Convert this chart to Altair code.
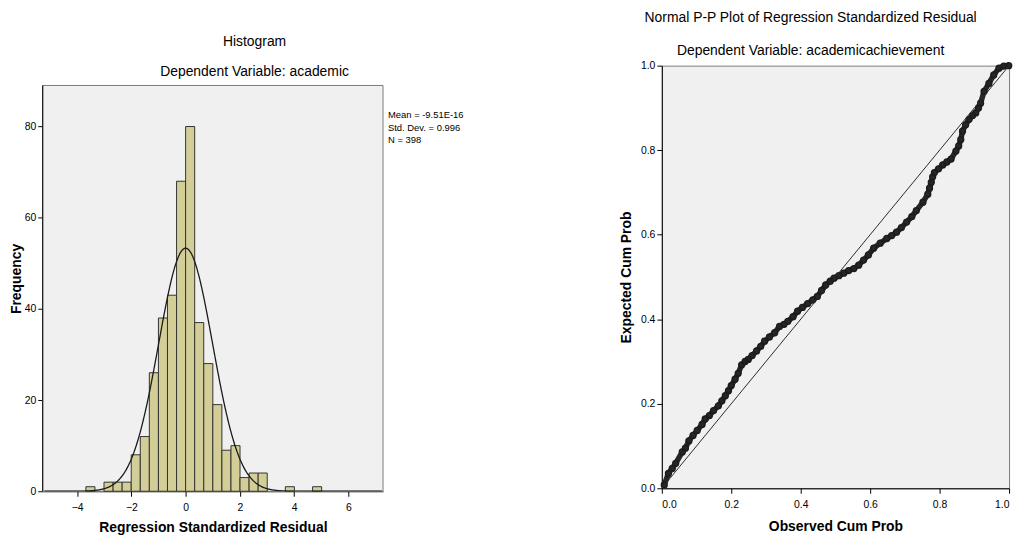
import altair as alt
import pandas as pd

# ---------------- data ----------------
bin_start = [-3.678, -3.010, -2.675, -2.341, -2.006, -1.672, -1.338, -1.003, -0.669, -0.334,
             0.0, 0.334, 0.669, 1.003, 1.338, 1.672, 2.006, 2.341, 2.675, 3.678, 4.682]
counts = [1, 2, 2, 2, 8, 12, 26, 38, 43, 68, 80, 37, 28, 19, 9, 10, 3, 4, 4, 1, 1]
bin_width = 0.3344
mean_val = -9.51e-16
sd_val = 0.996
n_val = 398
stats_lines = ["Mean = -9.51E-16", "Std. Dev. = 0.996", "N = 398"]
hist_x_ticks = [-4, -2, 0, 2, 4, 6]
hist_y_ticks = [0, 20, 40, 60, 80]
hist_x_domain = [-5.27, 7.28]
hist_y_max = 89

pp_observed = [0.007, 0.019, 0.03, 0.04, 0.059, 0.068, 0.078, 0.09, 0.102, 0.116, 0.125, 0.137,
               0.149, 0.163, 0.173, 0.183, 0.192, 0.2, 0.211, 0.22, 0.23, 0.24, 0.249, 0.26,
               0.273, 0.285, 0.296, 0.31, 0.325, 0.339, 0.352, 0.363, 0.378, 0.391, 0.405, 0.42,
               0.435, 0.448, 0.46, 0.472, 0.485, 0.496, 0.51, 0.524, 0.538, 0.553, 0.567, 0.581,
               0.595, 0.61, 0.629, 0.648, 0.662, 0.676, 0.69, 0.705, 0.72, 0.733, 0.752, 0.766,
               0.771, 0.776, 0.78, 0.785, 0.797, 0.809, 0.821, 0.833, 0.847, 0.855, 0.861, 0.866,
               0.875, 0.885, 0.895, 0.904, 0.912, 0.918, 0.928, 0.942, 0.956, 0.971, 0.985, 0.999]
pp_expected = [0.008, 0.035, 0.047, 0.059, 0.086, 0.095, 0.112, 0.125, 0.137, 0.151, 0.164, 0.172,
               0.184, 0.195, 0.207, 0.219, 0.231, 0.243, 0.258, 0.272, 0.292, 0.3, 0.305, 0.314,
               0.325, 0.336, 0.348, 0.358, 0.368, 0.383, 0.388, 0.395, 0.406, 0.419, 0.428, 0.437,
               0.446, 0.454, 0.468, 0.481, 0.49, 0.497, 0.503, 0.509, 0.515, 0.52, 0.528, 0.54,
               0.552, 0.568, 0.58, 0.591, 0.598, 0.606, 0.617, 0.63, 0.643, 0.657, 0.677, 0.696,
               0.71, 0.724, 0.737, 0.747, 0.756, 0.765, 0.772, 0.779, 0.798, 0.81, 0.825, 0.845,
               0.86, 0.873, 0.882, 0.888, 0.9, 0.911, 0.939, 0.958, 0.978, 0.994, 0.999, 1.0]
pp_ticks = [0.0, 0.2, 0.4, 0.6, 0.8, 1.0]

# ---------------- styling ----------------
NARROW = "Liberation Sans Narrow, Arial Narrow, Liberation Sans, Arial, sans-serif"
REG = "Liberation Sans, Arial, sans-serif"
PANEL = "#F0F0F0"
FRAME = "#7a7a7a"

HW, HFRAME = 343, 409          # histogram frame size
HH = 429                        # histogram view height (frame sits at its bottom)
PW, PH = 350, 426

hist_df = pd.DataFrame({"start": bin_start, "count": counts})
hist_df["end"] = hist_df["start"] + bin_width

xs = alt.Scale(domain=hist_x_domain, nice=False, zero=False)
ys = alt.Scale(domain=[0, hist_y_max * HH / HFRAME], nice=False)

frame = alt.Chart(pd.DataFrame({"a": [0]})).mark_rect(
    fill=PANEL, stroke=FRAME, strokeWidth=1
).encode(
    x=alt.X(datum=hist_x_domain[0], scale=xs,
            axis=alt.Axis(values=hist_x_ticks, title="Regression Standardized Residual",
                          labelPadding=6, titlePadding=8)),
    x2=alt.datum(hist_x_domain[1]),
    y=alt.Y(datum=0, scale=ys,
            axis=alt.Axis(values=hist_y_ticks, title="Frequency", titlePadding=1, domain=False)),
    y2=alt.datum(hist_y_max),
)

yline = alt.Chart(pd.DataFrame({"a": [0]})).mark_rule(color="#000000", strokeWidth=1).encode(
    x=alt.X(datum=hist_x_domain[0], scale=xs),
    y=alt.Y(datum=0, scale=ys),
    y2=alt.datum(hist_y_max),
)

bars = alt.Chart(hist_df).mark_rect(fill="#D3CE97", stroke="#333333", strokeWidth=1).encode(
    x=alt.X("start:Q", scale=xs),
    x2="end:Q",
    y=alt.Y("count:Q", scale=ys),
    y2=alt.datum(0),
)

curve = alt.Chart(alt.sequence(-5.2, 7.25, 0.02, as_="x")).transform_calculate(
    y=f"{n_val * bin_width}*densityNormal(datum.x, {mean_val}, {sd_val})"
).mark_line(color="#1a1a1a", strokeWidth=1.3, clip=True).encode(
    x=alt.X("x:Q", scale=xs), y=alt.Y("y:Q", scale=ys)
)

stats = alt.Chart(pd.DataFrame({"t": ["\n".join(stats_lines)]})).mark_text(
    align="left", baseline="top", lineBreak="\n", lineHeight=12.5, fontSize=9.5,
    font=NARROW, color="#000000"
).encode(text="t:N", x=alt.value(HW + 5), y=alt.value(45))

left = alt.layer(frame, bars, curve, yline, stats).properties(
    width=HW, height=HH,
    view=alt.ViewBackground(fill="transparent", stroke="transparent"),
    title=alt.TitleParams("Histogram", subtitle="Dependent Variable: academic",
                          font=REG, subtitleFont=REG, fontSize=14, subtitleFontSize=14,
                          fontWeight="normal", color="#000000", subtitleColor="#000000",
                          anchor="middle", dx=42, dy=21, offset=8, subtitlePadding=16),
)

pp_df = pd.DataFrame({"obs": pp_observed, "exp": pp_expected})
diag_df = pd.DataFrame({"obs": [0.0, 1.0], "exp": [0.0, 1.0]})
pxs = alt.Scale(domain=[0, 1], nice=False)
pys = alt.Scale(domain=[0, 1], nice=False)

diag = alt.Chart(diag_df).mark_line(color="#2a2a2a", strokeWidth=1).encode(
    x=alt.X("obs:Q", scale=pxs,
            axis=alt.Axis(values=pp_ticks, format=".1f", title="Observed Cum Prob",
                          labelPadding=6, titlePadding=10)),
    y=alt.Y("exp:Q", scale=pys,
            axis=alt.Axis(values=pp_ticks, format=".1f", title="Expected Cum Prob",
                          titlePadding=7)),
)
band = alt.Chart(pp_df).mark_line(color="#262626", strokeWidth=5.5, strokeCap="round",
                                  strokeJoin="round").encode(
    x=alt.X("obs:Q", scale=pxs), y=alt.Y("exp:Q", scale=pys), order="obs:Q"
)
pts = alt.Chart(pp_df).mark_point(shape="circle", size=34, filled=False, stroke="#1c1c1c",
                                  strokeWidth=1.5, opacity=1).encode(
    x=alt.X("obs:Q", scale=pxs), y=alt.Y("exp:Q", scale=pys)
)

right = alt.layer(band, pts, diag).properties(
    width=PW, height=PH,
    view=alt.ViewBackground(fill=PANEL, stroke=FRAME, strokeWidth=1),
    title=alt.TitleParams("Normal P-P Plot of Regression Standardized Residual",
                          subtitle="Dependent Variable: academicachievement",
                          font=REG, subtitleFont=REG, fontSize=14, subtitleFontSize=14,
                          fontWeight="normal", color="#000000", subtitleColor="#000000",
                          anchor="middle", dx=-25, offset=2, subtitlePadding=19),
)

chart = alt.hconcat(left, right, spacing=155).properties(
    padding=0, background="#ffffff"
).configure_axis(
    grid=False, domainColor="#000000", tickColor="#000000", tickSize=5,
    labelColor="#000000", labelFont=NARROW, labelFontSize=10.5,
    titleFont=NARROW, titleFontSize=14, titleFontWeight="bold", titleColor="#000000",
)

chart.save("out.html", embed_options={"renderer": "svg", "actions": False})
